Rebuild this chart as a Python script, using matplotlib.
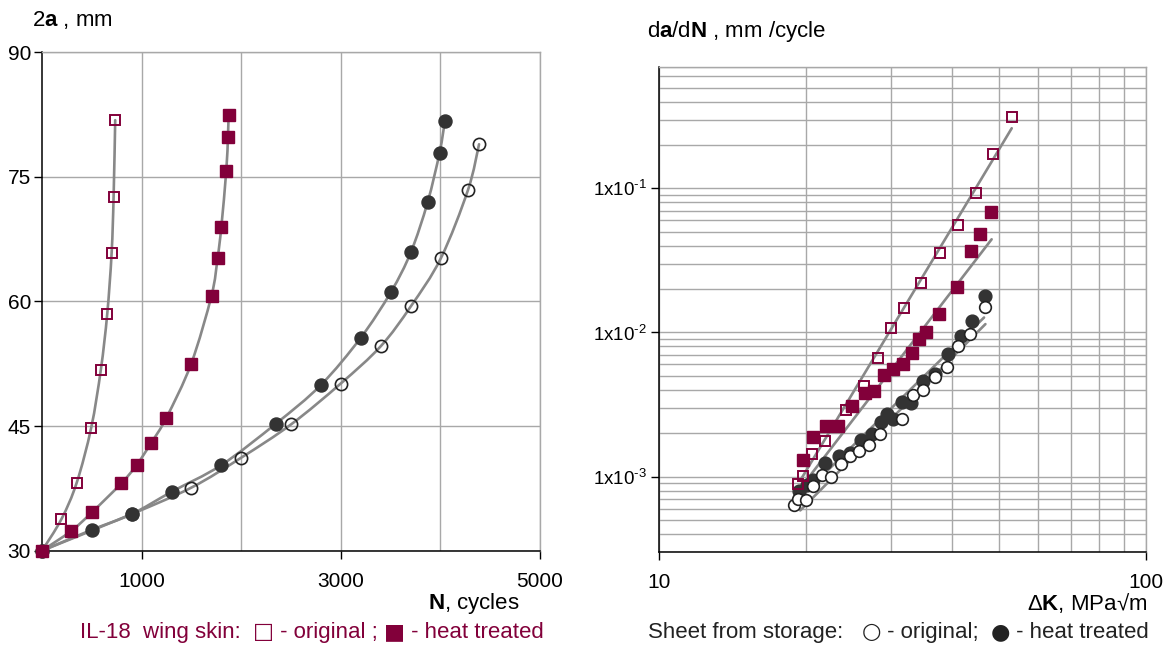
import matplotlib
matplotlib.use("Agg")
import matplotlib.pyplot as plt
import numpy as np
from matplotlib.path import Path
from matplotlib.patches import PathPatch
from matplotlib.ticker import FixedLocator, NullFormatter, LogLocator

TEXT_FONT = ["Liberation Sans", "DejaVu Sans"]
SYMBOL_FONT = ["DejaVu Sans"]

plt.rcParams["font.family"] = TEXT_FONT
plt.rcParams["mathtext.fontset"] = "custom"
plt.rcParams["mathtext.rm"] = "Liberation Sans"
plt.rcParams["mathtext.bf"] = "Liberation Sans:bold"
plt.rcParams["mathtext.it"] = "Liberation Sans:italic"

MAROON = "#82003a"
DARK = "#333333"
CURVE = "#888888"
GRID = "#a8a8a8"

# crack length 2a (mm) vs cycles N -- IL-18 wing skin
skin_orig_N = [0, 195, 349, 494, 591, 655, 699, 719, 735]
skin_orig_2a = [30.0, 33.8, 38.2, 44.8, 51.8, 58.5, 65.8, 72.6, 81.8]
skin_heat_N = [0, 296, 500, 796, 950, 1098, 1249, 1498, 1702, 1763, 1800, 1850, 1867, 1873]
skin_heat_2a = [30.0, 32.4, 34.6, 38.1, 40.3, 43.0, 46.0, 52.5, 60.7, 65.2, 68.9, 75.7, 79.8, 82.4]

# crack length vs cycles -- sheet from storage
sheet_orig_N = [0, 900, 1501, 2001, 2501, 2998, 3401, 3703, 4005, 4277, 4388]
sheet_orig_2a = [30.0, 34.4, 37.6, 41.2, 45.2, 50.1, 54.6, 59.4, 65.2, 73.4, 78.9]
sheet_heat_N = [0, 497, 900, 1303, 1800, 2350, 2797, 3199, 3502, 3703, 3871, 3992, 4045]
sheet_heat_2a = [30.0, 32.5, 34.4, 37.1, 40.3, 45.3, 49.9, 55.6, 61.1, 65.9, 71.9, 77.9, 81.7]

# growth rate da/dN (mm/cycle) vs dK (MPa*sqrt(m))
skin_orig_dK = [19.3, 19.8, 20.6, 21.9, 24.2, 26.3, 28.2, 29.9, 31.8, 34.5, 37.8, 41.2, 44.7, 48.4, 53.0]
skin_orig_rate = [0.000885, 0.00101, 0.00144, 0.00177, 0.00292, 0.00426, 0.00667, 0.01076,
                  0.01475, 0.0222, 0.0354, 0.0556, 0.0932, 0.172, 0.311]
skin_heat_dK = [19.8, 20.7, 22.0, 23.3, 24.9, 26.5, 27.7, 29.0, 30.3, 31.7, 33.1, 34.2, 35.4,
                37.6, 41.0, 43.8, 45.6, 48.1]
skin_heat_rate = [0.00130, 0.00187, 0.00224, 0.00226, 0.00308, 0.00383, 0.00393, 0.00505, 0.00554,
                  0.00600, 0.00715, 0.00903, 0.0101, 0.01334, 0.0207, 0.0369, 0.0482, 0.0681]
sheet_orig_dK = [18.9, 19.3, 20.0, 20.7, 21.6, 22.6, 23.6, 24.7, 25.8, 27.0, 28.4, 31.6, 33.2,
                 34.9, 36.9, 39.1, 41.2, 43.5, 46.8]
sheet_orig_rate = [0.000632, 0.000703, 0.000692, 0.000857, 0.00102, 0.00100, 0.00122, 0.00138,
                   0.00150, 0.00165, 0.00196, 0.00251, 0.00367, 0.00398, 0.00492, 0.00577,
                   0.00803, 0.00973, 0.01508]
sheet_heat_dK = [19.4, 20.1, 20.7, 21.9, 23.4, 24.7, 26.0, 27.4, 28.5, 29.4, 30.3, 31.5, 32.9,
                 34.8, 36.9, 39.3, 41.7, 44.0, 46.6]
sheet_heat_rate = [0.00080, 0.00087, 0.000942, 0.00124, 0.00140, 0.00146, 0.00179, 0.00196,
                   0.00239, 0.00274, 0.00253, 0.00330, 0.00325, 0.00461, 0.00519, 0.00706,
                   0.00942, 0.0121, 0.01787]

# power-law trend lines, end points
skin_orig_fit_dK, skin_orig_fit_rate = [19.5, 53.0], [0.00094, 0.261]
skin_heat_fit_dK, skin_heat_fit_rate = [19.6, 48.2], [0.000847, 0.0443]
sheet_orig_fit_dK, sheet_orig_fit_rate = [19.5, 46.8], [0.000583, 0.01143]
sheet_heat_fit_dK, sheet_heat_fit_rate = [19.2, 46.5], [0.000684, 0.0127]

rate_ticks = [1e-3, 1e-2, 1e-1]
rate_tick_labels = ["1x10$^{\\text{-3}}$", "1x10$^{\\text{-2}}$", "1x10$^{\\text{-1}}$"]

left_caption = [("IL-18  wing skin:  ", TEXT_FONT), ("□", SYMBOL_FONT), (" - original ; ", TEXT_FONT),
                ("■", SYMBOL_FONT), (" - heat treated", TEXT_FONT)]
right_caption = [("Sheet from storage:   ", TEXT_FONT), ("○", SYMBOL_FONT), (" - original;  ", TEXT_FONT),
                 ("●", SYMBOL_FONT), (" - heat treated", TEXT_FONT)]


def smooth_path(xs, ys):
    # cubic Bezier through every point (Catmull-Rom tangents)
    pts = np.column_stack([xs, ys]).astype(float)
    verts = [pts[0]]
    codes = [Path.MOVETO]
    n = len(pts)
    for i in range(n - 1):
        p0 = pts[max(i - 1, 0)]
        p1, p2 = pts[i], pts[i + 1]
        p3 = pts[min(i + 2, n - 1)]
        verts += [p1 + (p2 - p0) / 6.0, p2 - (p3 - p1) / 6.0, p2]
        codes += [Path.CURVE4] * 3
    return Path(verts, codes)


def style_axes(ax):
    for side in ("top", "right"):
        ax.spines[side].set_color(GRID)
        ax.spines[side].set_linewidth(1.0)
    for side in ("left", "bottom"):
        ax.spines[side].set_color("black")
        ax.spines[side].set_linewidth(1.1)
    ax.set_axisbelow(True)


fig = plt.figure(figsize=(11.64, 6.46), dpi=100)

# ---- left: crack growth curves ----
ax1 = fig.add_axes([42 / 1164, 1 - 550.7 / 646, 498 / 1164, 498.7 / 646])
style_axes(ax1)
ax1.set_xlim(0, 5000)
ax1.set_ylim(30, 90)
ax1.xaxis.set_major_locator(FixedLocator([1000, 3000, 5000]))
ax1.xaxis.set_minor_locator(FixedLocator([2000, 4000]))
ax1.yaxis.set_major_locator(FixedLocator([30, 45, 60, 75, 90]))
ax1.xaxis.grid(True, which="both", color=GRID, lw=1.0)
ax1.yaxis.grid(True, which="major", color=GRID, lw=1.0)
ax1.tick_params(which="major", direction="out", length=6, width=1, labelsize=15)
ax1.tick_params(which="minor", length=0)
ax1.tick_params(axis="x", pad=9)
ax1.tick_params(axis="y", pad=2)

for xs, ys in [(skin_orig_N, skin_orig_2a), (skin_heat_N, skin_heat_2a),
               (sheet_orig_N, sheet_orig_2a), (sheet_heat_N, sheet_heat_2a)]:
    ax1.add_patch(PathPatch(smooth_path(xs, ys), fill=False, edgecolor=CURVE,
                            lw=1.9, capstyle="round", zorder=2))

ax1.plot(sheet_orig_N, sheet_orig_2a, ls="none", marker="o", ms=8.8, mfc="none",
         mec="#222222", mew=1.2, zorder=3, clip_on=False)
ax1.plot(sheet_heat_N, sheet_heat_2a, ls="none", marker="o", ms=9.4, mfc=DARK,
         mec=DARK, zorder=4, clip_on=False)
ax1.plot(skin_orig_N, skin_orig_2a, ls="none", marker="s", ms=7.6, mfc="none",
         mec=MAROON, mew=1.4, zorder=5, clip_on=False)
ax1.plot(skin_heat_N, skin_heat_2a, ls="none", marker="s", ms=9.0, mfc=MAROON,
         mec=MAROON, zorder=6, clip_on=False)

# ---- right: growth rate vs stress intensity range ----
ax2 = fig.add_axes([659 / 1164, 1 - 552 / 646, 487 / 1164, 485.5 / 646])
style_axes(ax2)
ax2.set_xscale("log")
ax2.set_yscale("log")
ax2.set_xlim(10, 100)
ax2.set_ylim(3e-4, 0.7)
ax2.xaxis.set_major_locator(FixedLocator([10, 100]))
ax2.xaxis.set_minor_locator(LogLocator(base=10, subs=np.arange(2, 10)))
ax2.xaxis.set_minor_formatter(NullFormatter())
ax2.set_xticklabels(["10", "100"])
ax2.yaxis.set_major_locator(FixedLocator(rate_ticks))
ax2.yaxis.set_minor_locator(LogLocator(base=10, subs=np.arange(2, 10), numticks=20))
ax2.yaxis.set_minor_formatter(NullFormatter())
ax2.set_yticklabels(rate_tick_labels)
ax2.grid(True, which="both", color=GRID, lw=1.0)
ax2.tick_params(which="major", direction="out", length=6, width=1, labelsize=15)
ax2.tick_params(axis="y", labelsize=13.5, pad=3)
ax2.tick_params(which="minor", length=0)
ax2.tick_params(axis="x", pad=9)

for xs, ys in [(skin_orig_fit_dK, skin_orig_fit_rate), (skin_heat_fit_dK, skin_heat_fit_rate),
               (sheet_orig_fit_dK, sheet_orig_fit_rate), (sheet_heat_fit_dK, sheet_heat_fit_rate)]:
    ax2.plot(xs, ys, color=CURVE, lw=1.9, solid_capstyle="round", zorder=2)

ax2.plot(sheet_heat_dK, sheet_heat_rate, ls="none", marker="o", ms=9.2, mfc=DARK,
         mec=DARK, zorder=3)
ax2.plot(sheet_orig_dK, sheet_orig_rate, ls="none", marker="o", ms=8.4, mfc="white",
         mec="#222222", mew=1.2, zorder=4)
ax2.plot(skin_heat_dK, skin_heat_rate, ls="none", marker="s", ms=9.2, mfc=MAROON,
         mec=MAROON, zorder=5)
ax2.plot(skin_orig_dK, skin_orig_rate, ls="none", marker="s", ms=7.8, mfc="none",
         mec=MAROON, mew=1.4, zorder=6)

# ---- axis titles ----
fig.text(32 / 1164, 1 - 20 / 646, "2$\\mathbf{a}$ , mm", size=16, va="center", ha="left")
fig.text(428 / 1164, 1 - 603 / 646, "$\\mathbf{N}$, cycles", size=16, va="center", ha="left")
fig.text(647 / 1164, 1 - 32 / 646, "d$\\mathbf{a}$/d$\\mathbf{N}$ , mm /cycle",
         size=16, va="center", ha="left")
fig.text(1147 / 1164, 1 - 603 / 646, "Δ$\\mathbf{K}$, MPa√m", size=16, va="center", ha="right")

# ---- captions under the panels, pieces laid out left to right ----
fig.canvas.draw()
renderer = fig.canvas.get_renderer()
for x0, pieces, color in [(80, left_caption, MAROON), (648, right_caption, "#222222")]:
    x = x0
    for text, fam in pieces:
        t = fig.text(x / 1164, 1 - 638 / 646, text, family=fam, size=16, color=color,
                     va="baseline", ha="left")
        x += t.get_window_extent(renderer).width

fig.savefig("out.png", dpi=100)
